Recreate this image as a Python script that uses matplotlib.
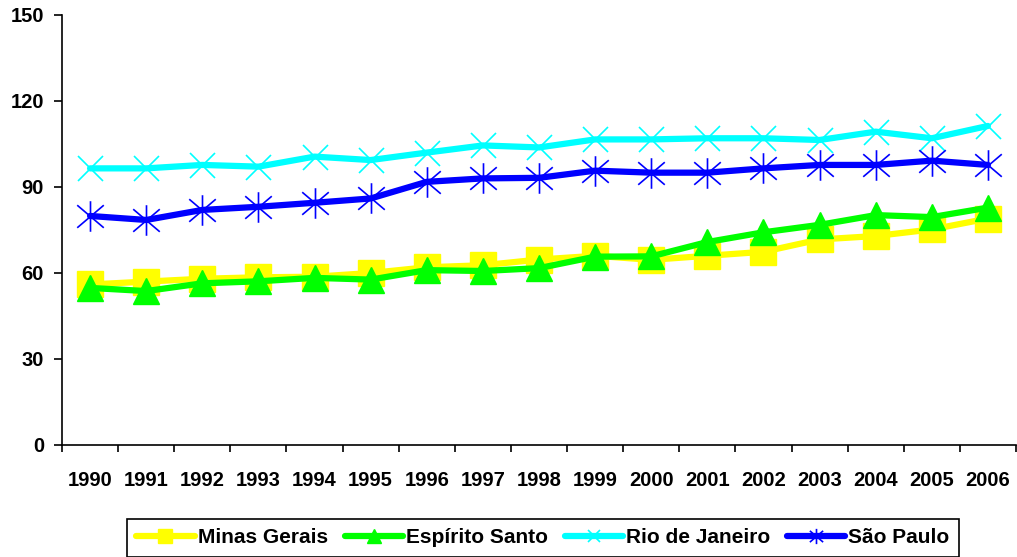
import matplotlib
matplotlib.use("Agg")
import matplotlib.pyplot as plt
from matplotlib.path import Path

years = ["1990", "1991", "1992", "1993", "1994", "1995", "1996", "1997", "1998",
         "1999", "2000", "2001", "2002", "2003", "2004", "2005", "2006"]
minas_gerais = [56, 57, 58, 58.5, 58.7, 60, 62, 62.7, 64.7, 66, 64.6, 66, 67.4, 71.7, 72.9, 75.2, 79]
espirito_santo = [54.8, 53.7, 56.4, 57.1, 58.3, 57.7, 61, 60.7, 61.7, 65.7, 65.8, 70.8, 74.2, 76.8, 80.2, 79.5, 82.8]
rio_de_janeiro = [96.5, 96.5, 97.7, 97.1, 100.6, 99.4, 102, 104.5, 103.8, 106.6, 106.6, 107, 107, 106.4, 109.3, 107, 111.3]
sao_paulo = [79.9, 78.5, 82, 83.1, 84.5, 86, 91.8, 93, 93.2, 95.7, 95, 95, 96.5, 97.7, 97.7, 99.2, 97.7]
series_names = ["Minas Gerais", "Espírito Santo", "Rio de Janeiro", "São Paulo"]
y_ticks = [0, 30, 60, 90, 120, 150]

plt.rcParams['font.family'] = ['Liberation Sans', 'DejaVu Sans']
plt.rcParams['font.weight'] = 'bold'

fig = plt.figure(figsize=(10.17, 5.57), dpi=100)
ax = fig.add_axes([62/1017, 1-445/557, (1016-62)/1017, (445-15)/557])

x = list(range(len(years)))

asterisk = Path([(-1, -0.85), (1, 0.85), (-1, 0.85), (1, -0.85), (0, -1.15), (0, 1.15)],
                [Path.MOVETO, Path.LINETO, Path.MOVETO, Path.LINETO, Path.MOVETO, Path.LINETO])

lw = 4.5
ax.plot(x, minas_gerais, color='#FFFF00', lw=lw, marker='s', ms=19, mec='#FFFF00', mfc='#FFFF00',
        label=series_names[0], solid_joinstyle='round', solid_capstyle='round')
ax.plot(x, espirito_santo, color='#00FF00', lw=lw, marker='^', ms=19, mec='#00FF00', mfc='#00FF00',
        label=series_names[1], solid_joinstyle='round', solid_capstyle='round')
ax.plot(x, rio_de_janeiro, color='#00FFFF', lw=lw, marker='x', ms=18, mew=1.2, mec='#00FFFF',
        label=series_names[2], solid_joinstyle='round', solid_capstyle='round')
ax.plot(x, sao_paulo, color='#0000FF', lw=lw, marker=asterisk, ms=22, mew=1.2, mec='#0000FF',
        fillstyle='none', label=series_names[3], solid_joinstyle='round', solid_capstyle='round')

ax.set_xlim(-0.5, len(years) - 0.5)
ax.set_ylim(0, 150)
ax.set_yticks(y_ticks)
ax.set_yticklabels([str(v) for v in y_ticks], fontsize=14.5, fontweight='bold')
ax.set_xticks([i - 0.5 for i in range(len(years) + 1)])
ax.set_xticklabels([])
ax.set_xticks(x, minor=True)
ax.set_xticklabels(years, minor=True, fontsize=14.5, fontweight='bold')
ax.tick_params(axis='x', which='minor', length=0, pad=19)
ax.tick_params(axis='x', which='major', length=5, width=1.2, direction='out')
ax.tick_params(axis='y', length=6, width=1.2, direction='out', pad=7)

for s in ['top', 'right']:
    ax.spines[s].set_visible(False)
for s in ['left', 'bottom']:
    ax.spines[s].set_linewidth(1.2)

leg = ax.legend(loc='upper center', bbox_to_anchor=(543/1017, 1-519/557), bbox_transform=fig.transFigure,
                ncol=4, frameon=True, fancybox=False, edgecolor='black', framealpha=1,
                prop={'size': 15, 'weight': 'bold', 'family': ['Liberation Sans', 'DejaVu Sans']},
                handlelength=2.8, handletextpad=0.15, columnspacing=0.8, markerscale=0.5,
                borderpad=0.45, borderaxespad=0)
leg.get_frame().set_linewidth(1.2)

fig.savefig("out.png", dpi=100)
